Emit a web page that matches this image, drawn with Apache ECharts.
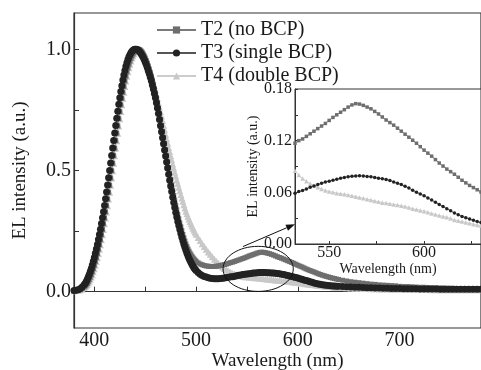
<!DOCTYPE html>
<html>
<head>
<meta charset="utf-8">
<script src="https://cdn.jsdelivr.net/npm/echarts@6/dist/echarts.min.js"></script>
<style>
  html, body { margin: 0; padding: 0; background: #fff; }
  #chart { width: 481px; height: 370px; }
</style>
</head>
<body>
<div id="chart"></div>
<script>
// wavelength samples (nm), denser where the peaks are steep
const wavelength = [
  380, 382, 384, 386, 388,
  390, 391, 392, 393, 394, 395, 396, 397, 398, 399,
  400, 401, 402, 403, 404, 405, 406, 407, 408, 409,
  410, 411, 412, 413, 414, 415, 416, 417, 418, 419,
  420, 421, 422, 423, 424, 425, 426, 427, 428, 429,
  430, 431, 432, 433, 434, 435, 436, 437, 438, 439,
  440, 441, 442, 443, 444, 445, 446, 447, 448, 449,
  450, 451, 452, 453, 454, 455, 456, 457, 458, 459,
  460, 461, 462, 463, 464, 465, 466, 467, 468, 469,
  470, 471, 472, 473, 474, 475, 476, 477, 478, 479,
  480, 481, 482, 483, 484, 485, 486, 487, 488, 489,
  490, 491, 492, 493, 494, 495, 496, 497, 498, 499,
  500,
  502, 504, 506, 508, 510, 512, 514, 516, 518, 520,
  522, 524, 526, 528, 530, 532, 534, 536, 538, 540,
  542, 544, 546, 548, 550, 552, 554, 556, 558, 560,
  562, 564, 566, 568, 570, 572, 574, 576, 578, 580,
  582, 584, 586, 588, 590, 592, 594, 596, 598, 600,
  602, 604, 606, 608, 610, 612, 614, 616, 618, 620,
  622, 624, 626, 628, 630, 632, 634, 636, 638, 640,
  644, 648, 652, 656, 660, 664, 668, 672, 676, 680,
  684, 688, 692, 696, 700, 704, 708, 712, 716, 720,
  724, 728, 732, 736, 740, 744, 748, 752, 756, 760,
  764, 768, 772, 776, 780
];

// T2 (no BCP)
const t2 = [
  0.004, 0.005, 0.006, 0.008, 0.012,
  0.019, 0.023, 0.028, 0.034, 0.041, 0.05, 0.059, 0.07, 0.082, 0.095,
  0.109, 0.124, 0.14, 0.157, 0.175, 0.194, 0.214, 0.235, 0.257, 0.28,
  0.304, 0.329, 0.355, 0.382, 0.41, 0.439, 0.469, 0.499, 0.53, 0.561,
  0.592, 0.623, 0.654, 0.684, 0.714, 0.743, 0.771, 0.798, 0.823, 0.847,
  0.869, 0.889, 0.908, 0.924, 0.939, 0.952, 0.963, 0.973, 0.981, 0.988,
  0.993, 0.997, 0.999, 1.0, 0.999, 0.997, 0.993, 0.988, 0.981, 0.973,
  0.964, 0.954, 0.943, 0.931, 0.918, 0.904, 0.889, 0.873, 0.856, 0.838,
  0.82, 0.8, 0.779, 0.757, 0.734, 0.71, 0.686, 0.661, 0.636, 0.611,
  0.586, 0.561, 0.536, 0.512, 0.488, 0.464, 0.441, 0.419, 0.397, 0.376,
  0.356, 0.337, 0.318, 0.3, 0.283, 0.267, 0.251, 0.236, 0.222, 0.209,
  0.197, 0.186, 0.176, 0.167, 0.159, 0.152, 0.145, 0.139, 0.134, 0.129,
  0.125,
  0.119, 0.114, 0.111, 0.108, 0.106, 0.105, 0.104, 0.104, 0.104, 0.105,
  0.106, 0.108, 0.11, 0.112, 0.114, 0.117, 0.12, 0.122, 0.125, 0.128,
  0.131, 0.134, 0.137, 0.14, 0.1435, 0.147, 0.15, 0.153, 0.156, 0.159,
  0.1615, 0.163, 0.1625, 0.161, 0.159, 0.157, 0.154, 0.151, 0.1475, 0.144,
  0.141, 0.138, 0.1345, 0.131, 0.1275, 0.124, 0.1205, 0.117, 0.113, 0.109,
  0.1055, 0.102, 0.098, 0.094, 0.0905, 0.087, 0.084, 0.081, 0.0775, 0.074,
  0.071, 0.068, 0.0655, 0.063, 0.0605, 0.058, 0.056, 0.054, 0.052, 0.05,
  0.047, 0.044, 0.041, 0.039, 0.037, 0.035, 0.033, 0.031, 0.03, 0.028,
  0.027, 0.026, 0.025, 0.024, 0.022, 0.021, 0.021, 0.02, 0.019, 0.018,
  0.018, 0.017, 0.016, 0.016, 0.015, 0.015, 0.014, 0.014, 0.013, 0.013,
  0.013, 0.012, 0.012, 0.012, 0.012
];

// T3 (single BCP)
const t3 = [
  0.005, 0.006, 0.008, 0.012, 0.019,
  0.028, 0.034, 0.041, 0.05, 0.06, 0.071, 0.083, 0.096, 0.11, 0.125,
  0.141, 0.158, 0.176, 0.195, 0.215, 0.236, 0.258, 0.281, 0.305, 0.33,
  0.356, 0.383, 0.411, 0.44, 0.47, 0.5, 0.531, 0.562, 0.593, 0.624,
  0.655, 0.686, 0.716, 0.745, 0.773, 0.8, 0.826, 0.85, 0.873, 0.894,
  0.913, 0.93, 0.945, 0.958, 0.969, 0.978, 0.986, 0.992, 0.996, 0.999,
  1.0, 1.0, 0.999, 0.997, 0.993, 0.988, 0.982, 0.975, 0.967, 0.958,
  0.948, 0.937, 0.925, 0.912, 0.899, 0.885, 0.87, 0.853, 0.836, 0.818,
  0.8, 0.78, 0.758, 0.735, 0.71, 0.685, 0.66, 0.635, 0.61, 0.585,
  0.56, 0.535, 0.51, 0.485, 0.46, 0.436, 0.413, 0.39, 0.368, 0.347,
  0.327, 0.308, 0.29, 0.273, 0.256, 0.24, 0.225, 0.21, 0.196, 0.183,
  0.171, 0.159, 0.148, 0.138, 0.129, 0.12, 0.112, 0.105, 0.098, 0.092,
  0.087,
  0.079, 0.072, 0.067, 0.063, 0.06, 0.057, 0.055, 0.054, 0.053, 0.053,
  0.053, 0.054, 0.055, 0.056, 0.058, 0.059, 0.061, 0.062, 0.064, 0.066,
  0.0675, 0.069, 0.0705, 0.072, 0.073, 0.074, 0.0753, 0.0765, 0.0773, 0.078,
  0.0787, 0.079, 0.0792, 0.079, 0.0785, 0.078, 0.0773, 0.0765, 0.0758, 0.075,
  0.0736, 0.072, 0.0705, 0.069, 0.067, 0.065, 0.0625, 0.06, 0.058, 0.056,
  0.0535, 0.051, 0.0485, 0.046, 0.0435, 0.041, 0.0385, 0.036, 0.034, 0.032,
  0.0305, 0.029, 0.0275, 0.026, 0.025, 0.024, 0.0235, 0.023, 0.0225, 0.022,
  0.021, 0.02, 0.019, 0.018, 0.018, 0.017, 0.016, 0.016, 0.015, 0.015,
  0.014, 0.014, 0.013, 0.013, 0.013, 0.012, 0.012, 0.012, 0.012, 0.011,
  0.011, 0.011, 0.011, 0.011, 0.01, 0.01, 0.01, 0.01, 0.01, 0.01,
  0.01, 0.01, 0.01, 0.01, 0.01
];

// T4 (double BCP)
const t4 = [
  0.004, 0.005, 0.006, 0.008, 0.011,
  0.017, 0.021, 0.025, 0.03, 0.036, 0.043, 0.051, 0.06, 0.07, 0.082,
  0.095, 0.109, 0.124, 0.14, 0.157, 0.175, 0.194, 0.214, 0.235, 0.257,
  0.28, 0.304, 0.329, 0.355, 0.382, 0.41, 0.439, 0.469, 0.499, 0.53,
  0.561, 0.592, 0.623, 0.654, 0.684, 0.714, 0.743, 0.771, 0.798, 0.823,
  0.847, 0.869, 0.889, 0.908, 0.924, 0.939, 0.952, 0.964, 0.974, 0.982,
  0.989, 0.994, 0.997, 0.999, 1.0, 0.999, 0.997, 0.993, 0.988, 0.981,
  0.973, 0.963, 0.952, 0.94, 0.927, 0.913, 0.898, 0.882, 0.866, 0.849,
  0.832, 0.815, 0.798, 0.78, 0.762, 0.744, 0.725, 0.706, 0.687, 0.668,
  0.649, 0.631, 0.613, 0.595, 0.578, 0.561, 0.544, 0.527, 0.51, 0.493,
  0.477, 0.461, 0.446, 0.431, 0.416, 0.401, 0.387, 0.373, 0.359, 0.345,
  0.332, 0.321, 0.31, 0.3, 0.29, 0.28, 0.271, 0.262, 0.253, 0.245,
  0.237,
  0.224, 0.211, 0.198, 0.186, 0.175, 0.164, 0.154, 0.144, 0.134, 0.125,
  0.117, 0.109, 0.102, 0.096, 0.09, 0.085, 0.08, 0.076, 0.073, 0.07,
  0.068, 0.066, 0.064, 0.062, 0.061, 0.06, 0.059, 0.0585, 0.0578, 0.057,
  0.056, 0.055, 0.054, 0.053, 0.052, 0.051, 0.05, 0.049, 0.048, 0.0475,
  0.0468, 0.046, 0.0452, 0.0445, 0.0435, 0.0425, 0.041, 0.04, 0.039, 0.038,
  0.0368, 0.0355, 0.0343, 0.033, 0.032, 0.031, 0.0295, 0.028, 0.027, 0.026,
  0.025, 0.024, 0.023, 0.022, 0.0215, 0.021, 0.02, 0.019, 0.0185, 0.018,
  0.017, 0.016, 0.015, 0.014, 0.014, 0.013, 0.013, 0.012, 0.012, 0.011,
  0.011, 0.011, 0.01, 0.01, 0.01, 0.01, 0.01, 0.009, 0.009, 0.009,
  0.009, 0.009, 0.008, 0.008, 0.008, 0.008, 0.008, 0.008, 0.008, 0.008,
  0.008, 0.008, 0.008, 0.008, 0.008
];

const names = ['T2 (no BCP)', 'T3 (single BCP)', 'T4 (double BCP)'];

// tick positions and labels
const mainXTicks = [400, 450, 500, 550, 600, 650, 700, 750];
const mainXLabels = [400, 500, 600, 700];
const mainYTicks = [0, 0.25, 0.5, 0.75, 1.0];
const mainYLabels = [0, 0.5, 1.0];
const insetXTicks = [550, 575, 600, 625];
const insetXLabels = [550, 600];
const insetYTicks = [0, 0.03, 0.06, 0.09, 0.12, 0.15, 0.18];
const insetYLabels = [0, 0.06, 0.12, 0.18];

[t2, t3, t4].forEach((s, i) => {
  if (s.length !== wavelength.length) throw new Error(names[i] + ' length ' + s.length + ' vs ' + wavelength.length);
});

const pairs = vals => wavelength.map((w, i) => [w, vals[i]]);

const serif = "'Liberation Serif', 'Times New Roman', serif";
const ink = '#1a1a1a';

const looks = [
  { symbol: 'rect', main: 5, inset: 3.5, color: '#6e6e6e', line: '#7a7a7a' },
  { symbol: 'circle', main: 7, inset: 3.5, color: '#222222', line: '#555555' },
  { symbol: 'triangle', main: 7, inset: 4.5, color: '#c8c8c8', line: '#cccccc' }
];
const seriesData = [t2, t3, t4];

function makeSeries(idx, grid) {
  const lk = looks[idx];
  return {
    name: names[idx],
    type: 'line',
    xAxisIndex: grid,
    yAxisIndex: grid,
    data: pairs(seriesData[idx]),
    symbol: lk.symbol,
    symbolSize: grid === 0 ? lk.main : lk.inset,
    showAllSymbol: true,
    clip: true,
    itemStyle: { color: lk.color },
    lineStyle: { color: lk.line, width: 1 },
    z: (idx === 1 ? 4 : (idx === 0 ? 3 : 2)) + (grid === 1 ? 10 : 0)
  };
}

const axisCommon = {
  axisLine: { show: true, lineStyle: { color: '#333', width: 1.2 } },
  splitLine: { show: false }
};

const chart = echarts.init(document.getElementById('chart'));

chart.setOption({
  animation: false,
  backgroundColor: '#fff',
  textStyle: { fontFamily: serif },
  grid: [
    { left: 74, right: 0, top: 13, bottom: 42, outerBoundsMode: 'none',
      show: true, borderColor: '#333', borderWidth: 1.2, backgroundColor: 'transparent' },
    { left: 295, right: 0, top: 89, bottom: 126, outerBoundsMode: 'none',
      show: true, borderColor: '#333', borderWidth: 1, backgroundColor: '#fff', z: 5 }
  ],
  legend: {
    data: names,
    orient: 'vertical',
    left: 151,
    top: 15,
    itemWidth: 39,
    itemHeight: 9,
    itemGap: 3,
    textStyle: { fontFamily: serif, fontSize: 20, color: ink, lineHeight: 20 }
  },
  xAxis: [
    Object.assign({}, axisCommon, {
      type: 'value', gridIndex: 0, min: 380, max: 780,
      name: 'Wavelength (nm)', nameLocation: 'middle', nameGap: 24, nameMoveOverlap: false,
      nameTextStyle: { fontFamily: serif, fontSize: 19, color: ink },
      axisTick: { show: true, inside: true, length: 5, lineStyle: { color: '#333' }, customValues: mainXTicks },
      axisLabel: { fontFamily: serif, fontSize: 20, color: ink, margin: 3, customValues: mainXLabels }
    }),
    Object.assign({}, axisCommon, {
      type: 'value', gridIndex: 1, min: 532, max: 630, z: 6,
      name: 'Wavelength (nm)', nameLocation: 'middle', nameGap: 13,
      nameTextStyle: { fontFamily: serif, fontSize: 14, color: ink },
      axisLine: { show: true, lineStyle: { color: '#333', width: 1 } },
      axisTick: { show: true, inside: true, length: 3, lineStyle: { color: '#333' }, customValues: insetXTicks },
      axisLabel: { fontFamily: serif, fontSize: 16, color: ink, margin: 1, customValues: insetXLabels }
    })
  ],
  yAxis: [
    Object.assign({}, axisCommon, {
      type: 'value', gridIndex: 0, min: -0.15, max: 1.15,
      name: 'EL intensity (a.u.)', nameLocation: 'middle', nameGap: 44, nameMoveOverlap: false,
      nameTextStyle: { fontFamily: serif, fontSize: 19, color: ink },
      axisTick: { show: true, inside: true, length: 5, lineStyle: { color: '#333' }, customValues: mainYTicks },
      axisLabel: { fontFamily: serif, fontSize: 20, color: ink, margin: 3, customValues: mainYLabels,
        formatter: v => v.toFixed(1) }
    }),
    Object.assign({}, axisCommon, {
      type: 'value', gridIndex: 1, min: 0, max: 0.18, z: 6,
      name: 'EL intensity (a.u.)', nameLocation: 'middle', nameGap: 30,
      nameTextStyle: { fontFamily: serif, fontSize: 14, color: ink },
      axisLine: { show: true, lineStyle: { color: '#333', width: 1 } },
      axisTick: { show: true, inside: true, length: 3, lineStyle: { color: '#333' }, customValues: insetYTicks },
      axisLabel: { fontFamily: serif, fontSize: 16, color: ink, margin: 3, customValues: insetYLabels,
        formatter: v => v.toFixed(2) }
    })
  ],
  series: [
    makeSeries(0, 0), makeSeries(1, 0), makeSeries(2, 0),
    makeSeries(0, 1), makeSeries(1, 1), makeSeries(2, 1)
  ]
});

// ellipse round the 560 nm shoulder and the arrow to the zoomed view
const ring = { center: [561, 0.094], halfWidth: 34.5, halfHeight: 0.093 };
const arrowFrom = [546, 0.186];
const arrowTo = [532, 0.023];

const c = chart.convertToPixel({ gridIndex: 0 }, ring.center);
const e = chart.convertToPixel({ gridIndex: 0 }, [ring.center[0] + ring.halfWidth, ring.center[1] + ring.halfHeight]);
const p0 = chart.convertToPixel({ gridIndex: 0 }, arrowFrom);
const p1 = chart.convertToPixel({ gridIndex: 1 }, arrowTo);
const ang = Math.atan2(p1[1] - p0[1], p1[0] - p0[0]);
const headLen = 9, headHalf = 3.2;
const base = [p1[0] - headLen * Math.cos(ang), p1[1] - headLen * Math.sin(ang)];

chart.setOption({
  graphic: [
    {
      type: 'ellipse', z: 20,
      shape: { cx: c[0], cy: c[1], rx: Math.abs(e[0] - c[0]), ry: Math.abs(e[1] - c[1]) },
      style: { fill: 'none', stroke: '#111', lineWidth: 1 }
    },
    {
      type: 'line', z: 20,
      shape: { x1: p0[0], y1: p0[1], x2: base[0], y2: base[1] },
      style: { stroke: '#111', lineWidth: 1 }
    },
    {
      type: 'polygon', z: 20,
      shape: {
        points: [
          p1,
          [base[0] + headHalf * Math.sin(ang), base[1] - headHalf * Math.cos(ang)],
          [base[0] - headHalf * Math.sin(ang), base[1] + headHalf * Math.cos(ang)]
        ]
      },
      style: { fill: '#111' }
    }
  ]
});
</script>
</body>
</html>
